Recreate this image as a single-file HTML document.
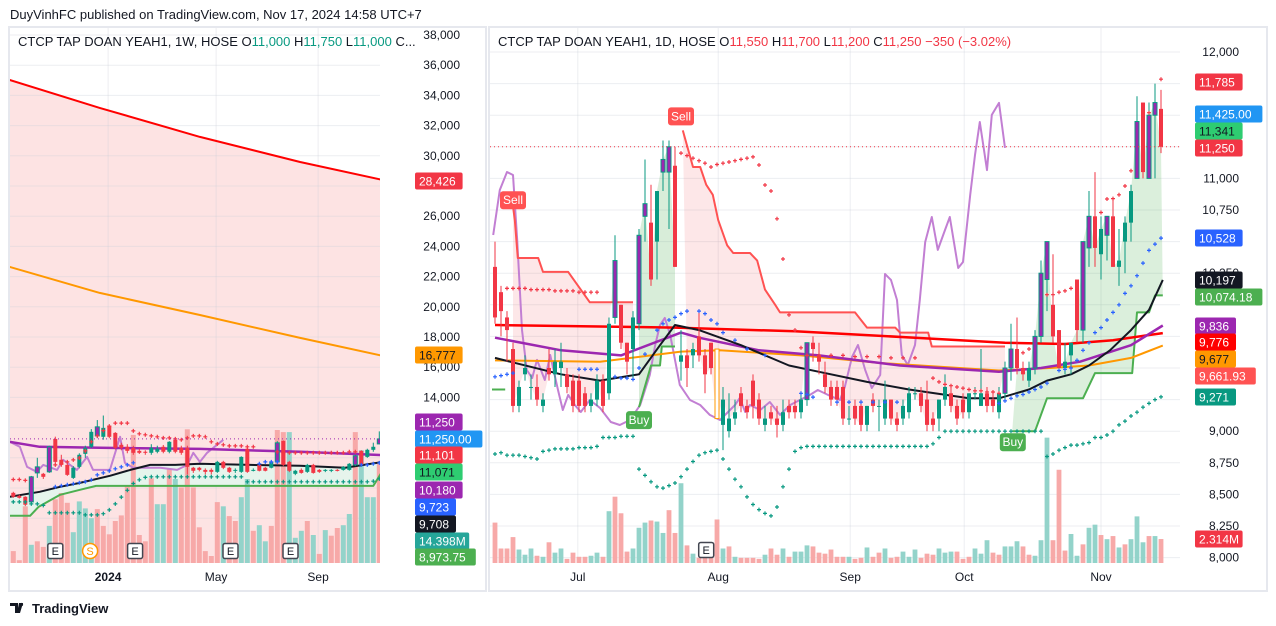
<!DOCTYPE html>
<html><head><meta charset="utf-8">
<style>
html,body{margin:0;padding:0;background:#fff;width:1276px;height:626px;overflow:hidden}
svg{display:block;font-family:"Liberation Sans",sans-serif}
.ax{font-size:12px;fill:#131722}
.lb{font-size:12px;fill:#fff}
</style></head>
<body>
<svg id="root" width="1276" height="626" viewBox="0 0 1276 626" xmlns="http://www.w3.org/2000/svg">
<defs>
<clipPath id="clipL"><rect x="10" y="28" width="370" height="535"/></clipPath>
<clipPath id="clipR"><rect x="490" y="28" width="690" height="535"/></clipPath>
</defs>
<rect x="0" y="0" width="1276" height="626" fill="#ffffff"/>
<text x="10" y="19" style="font-size:13px;fill:#131722">DuyVinhFC published on TradingView.com, Nov 17, 2024 14:58 UTC+7</text>
<rect x="9" y="27" width="477" height="564" fill="none" stroke="#e6e8ee" stroke-width="2"/>
<rect x="489" y="27" width="778" height="564" fill="none" stroke="#e6e8ee" stroke-width="2"/>
<g id="gL" clip-path="url(#clipL)"></g>
<g id="gR" clip-path="url(#clipR)"></g>
<g id="axL"></g>
<g id="axR"></g>
<g id="tL"></g>
<g id="tR"></g>

<text x="18" y="46" style="font-size:13px;fill:#131722">CTCP TAP DOAN YEAH1, 1W, HOSE  O<tspan fill="#089981">11,000</tspan>  H<tspan fill="#089981">11,750</tspan>  L<tspan fill="#089981">11,000</tspan>  C...</text>
<text x="498" y="46" style="font-size:13px;fill:#131722">CTCP TAP DOAN YEAH1, 1D, HOSE  O<tspan fill="#f23645">11,550</tspan>  H<tspan fill="#f23645">11,700</tspan>  L<tspan fill="#f23645">11,200</tspan>  C<tspan fill="#f23645">11,250</tspan>  <tspan fill="#f23645">−350 (−3.02%)</tspan></text>

<g id="lblL"></g>
<g id="lblR"></g>

<g>
<path d="M10 603h8v10h-3v-7h-5z M19 603h4l-3 10h-3z" fill="#131722"/>
<circle cx="21.5" cy="604.5" r="1.6" fill="#131722"/>
<text x="32" y="613" style="font-size:13px;fill:#131722;font-weight:bold">TradingView</text>
</g>
</svg>
<script>
// ===== RIGHT (daily) DATA =====
const rOpen=[10300,10100,9900,9650,9200,9450,9350,9350,9200,9500,9450,9500,9450,9400,9400,9300,9200,9250,9400,9300,9900,10000,9700,9650,9850,10700,10650,10500,11050,11050,11100,9550,9600,9600,9750,9600,9700,9650,9050,9000,9100,9300,9200,9400,9250,9050,9150,9100,9050,9200,9200,9150,9250,9700,9600,9450,9350,9350,9350,9100,9200,9200,9050,9250,9200,9100,9250,9100,9100,9150,9300,9300,9250,9100,9100,9250,9300,9200,9250,9150,9300,9200,9300,9250,9150,9300,9500,9650,9500,9400,9500,9750,10200,10000,9800,9500,9600,10200,9800,10450,10700,10400,10550,10700,10300,10500,10650,11000,11600,11000,11500,11550];
const rClose=[9900,9950,9800,9200,9350,9500,9350,9250,9250,9450,9550,9550,9350,9200,9200,9200,9250,9400,9200,9850,10350,9700,9550,9900,10550,10800,10200,10900,11150,11250,10300,9600,9500,9650,9600,9450,9500,9100,9250,9100,9150,9200,9150,9200,9100,9100,9100,9050,9150,9150,9150,9250,9700,9650,9550,9350,9250,9250,9100,9100,9100,9050,9200,9200,9200,9250,9100,9050,9200,9300,9300,9200,9050,9050,9250,9350,9200,9100,9150,9300,9300,9300,9200,9200,9300,9500,9650,9500,9450,9500,9750,10250,10500,9750,9500,9550,9700,9800,10500,10700,10450,10600,10700,10300,10350,10650,10900,11450,11050,11500,11600,11250];
const rHigh=[10500,10150,9950,9700,9400,9600,9450,9450,9300,9650,9650,9700,9500,9450,9450,9350,9300,9450,9450,9900,10550,10000,9700,9950,10600,11150,10950,10900,11300,11300,11250,9800,9650,9700,9950,9650,9700,9650,9350,9300,9250,9350,9250,9450,9300,9200,9200,9200,9250,9250,9250,9300,9700,9750,9700,9550,9400,9400,9400,9200,9250,9250,9200,9300,9250,9400,9250,9150,9250,9350,9350,9350,9400,9150,9250,9450,9350,9250,9300,9300,9350,9650,9350,9300,9350,9550,9850,9900,9550,9550,9800,10350,10500,10400,9800,9700,9700,10200,10500,10900,11050,10700,10700,10850,10600,10700,10950,11650,11600,11600,11750,11700];
const rLow=[9850,9750,9550,9150,9150,9400,9250,9200,9150,9400,9350,9350,9300,9150,9150,9150,9150,9200,9150,9250,9850,9650,9450,9400,9800,10500,10150,10200,10900,10600,10300,9400,9350,9500,9550,9300,9450,9100,8850,8950,9050,9150,9100,9100,9050,9000,9050,8950,9000,9100,9100,9100,9200,9550,9450,9300,9200,9200,9050,9050,9050,9000,9000,9150,9000,9050,9050,9000,9050,9100,9250,9150,9000,9000,9000,9200,9150,9050,9100,9100,9250,9200,9150,9150,9100,9250,9400,9450,9400,9350,9450,9700,9950,9700,9500,9450,9450,9700,9700,10300,10300,10200,10350,10300,10150,10250,10500,11000,11000,11000,11000,11200];
const rPurple=[21,25,26,29,30,53,86,87,91,92,93,99,100,103,108,110,111];
const rOrange=[38];
const rVol=[3.9,1.4,1.4,2.5,1.3,0.8,1.4,0.7,0.6,2.0,1.0,1.4,0.4,1.0,0.6,0.6,0.7,1.0,0.6,5.0,6.4,4.8,1.1,1.4,3.4,3.9,4.1,4.0,2.9,5.1,2.9,7.7,1.7,0.9,0.5,0.5,0.5,4.2,1.4,1.6,0.6,0.5,0.5,0.5,0.4,0.8,1.4,0.8,1.4,0.6,1.1,1.1,1.7,1.6,1.0,0.9,1.3,0.6,0.6,0.6,0.4,0.5,1.5,0.6,1.0,1.4,0.5,0.6,1.1,0.6,1.3,0.5,0.9,0.8,1.4,1.0,1.1,1.1,0.4,0.6,1.4,0.9,2.2,1.0,0.8,1.6,1.6,2.1,1.6,0.8,0.7,2.2,12.1,2.2,9.0,1.2,2.8,0.7,1.8,3.4,3.7,2.7,2.3,2.6,1.5,1.8,2.3,4.5,2.0,2.6,2.6,2.314];
const rVolDir="dddduuudud"+"uudddduudu"+"ddduuuduud"+"dududdddud"+"udddduddud"+"uuuddddddu"+"dduddudduu"+"udddguuddd".replace('g','u')+"uuudduuudd"+"uuudddu udu".replace(' ','')+"udududuuud"+"ud";
const rTickIdx=[13.8,37.2,59.2,78.2,101];
const rTickLbl=["Jul","Aug","Sep","Oct","Nov"];
const rPriceTicks=[12000,11000,10750,10250,10000,9000,8750,8500,8250,8000];
const rGridPrices=[12000,11750,11500,11250,11000,10750,10500,10250,10000,9750,9500,9250,9000,8750,8500,8250,8000];
const ma20Idx=[0,2.5,11,17.5,24,27.5,30,34,41,49,54,62,69,79,84,89,92,96,99,102.5,106,109,111.3];
const ma20Val=[9580,9550,9450,9400,9450,9680,9840,9800,9680,9520,9470,9390,9330,9260,9260,9330,9400,9450,9520,9640,9800,9960,10197];
const ma100Idx=[0,11,21,31,34,44,54,67.5,84,91,97.5,106,111.3];
const ma100Val=[9740,9640,9600,9780,9740,9640,9600,9520,9470,9500,9550,9680,9836];
const ma50Idx=[0,17.5,31,37.5,51,64,84,92.5,99,106,111.3];
const ma50Val=[9560,9550,9630,9640,9600,9540,9480,9500,9520,9580,9677];
const ma200Idx=[0,30,50,70,85,95,103,111.3];
const ma200Val=[9840,9820,9790,9740,9700,9690,9720,9776];
const stopG1Idx=[-0.5,1.7];
const stopG1Val=[9330,9330];
const stopG2Idx=[24,26,27.5,27.8,30];
const stopG2Val=[9190,9520,9520,9670,9670];
const stopG3Idx=[86.2,90,92,98,100,106.2,107,109,110,111.3];
const stopG3Val=[9000,9000,9260,9260,9460,9460,9940,9940,10074,10074];
const stopRAIdx=[3,3.3,3.8,7.2,8,12.2,15.8,23];
const stopRAVal=[10780,10670,10370,10370,10260,10260,10020,10020];
const stopRBIdx=[31.3,33,34.2,35.2,36.3,37.2,38.7,39.7,42.5,43.7,45,46.7,47.5,60,62,66.7,67.5,72.2,72.8,85];
const stopRBVal=[11380,11090,11090,10950,10870,10670,10470,10410,10410,10350,10120,10000,9940,9940,9820,9820,9780,9780,9670,9670];
const oscIdx=[-0.3,0.8,2,3,3.7,4.5,5.3,6.2,7,8.3,9.2,10.5,11.3,12.2,13.3,14.3,15.8,17.5,19.3,20.8,22.5,24.2,25.8,26.7,27.5,28.3,29.2,30,30.8,32.5,34.2,35.8,37.5,40,40.8,41.7,42.5,44.2,45.8,47.5,49.2,50.8,52.5,53.8,55.5,57.5,58.3,59.5,60.5,61.7,62.8,64.2,65,66,67,67.8,68.8,70,70.8,71.7,72.8,73.8,75,75.8,77.2,78,79.2,80,80.8,82,82.8,84,85];
const oscVal=[10552,10908,11051,11027,10513,9801,9484,9421,9564,9405,9603,9326,9168,9287,9207,9152,9247,9184,9073,9049,9089,9207,9445,9682,9840,9896,9761,9564,9366,9247,9207,9129,9089,9207,9263,9152,9207,9168,9231,9129,9207,9247,9287,9326,9287,9247,9350,9587,9682,9484,9342,9445,10244,10196,10038,9603,9524,9682,10038,10497,10695,10434,10592,10695,10291,10339,10869,11185,11446,11066,11502,11597,11241];
const sarGreen=[8820,8830,8810,8810,8810,8800,8790,8780,8840,8850,8860,8860,8860,8860,8870,8870,8870,8880,8950,8950,8950,8960,8960,8960,8700,8650,8600,8560,8550,8570,8590,8640,8700,8760,8810,8830,8840,8850,8780,8700,8620,8560,8480,8420,8380,8350,8330,8400,8560,8700,8840,8870,8880,8880,8880,8880,8880,8880,8880,8880,8880,8880,8880,8880,8880,8880,8880,8880,8880,8880,8880,8880,8880,8900,8950,9000,9000,9000,9000,9000,9000,9000,9000,9000,9000,9000,9000,9000,9000,9000,9000,9000,8800,8820,8850,8870,8890,8890,8900,8910,8950,8950,8970,9000,9050,9080,9120,9150,9190,9220,9250,9271];
const sarBlueIdx=[0,1,2,3,14,15,16,17,20,21,22,23,24,25,27,28,29,30,31,32,34,35,36,37,38,40,42,45,51,52,53,57,59,61,63,65,67,84,85,86,87,88,89,90,91,92,94,95,96,97,98,99,100,101,102,103,104,105,106,107,108,109,110,111];
const sarBlueVal=[9430,9440,9450,9460,9490,9490,9490,9490,9430,9420,9420,9410,9500,9610,9800,9850,9880,9900,9930,9950,9950,9930,9880,9850,9780,9720,9650,9600,9300,9290,9270,9230,9230,9230,9230,9230,9230,9220,9240,9260,9280,9290,9310,9330,9350,9380,9480,9490,9500,9560,9640,9700,9780,9820,9880,9940,10000,10090,10150,10230,10330,10430,10480,10528];
const sarRedIdx=[2,3,4,5,6,7,8,9,10,11,12,13,14,15,16,17,31,32,33,34,35,36,37,38,39,40,41,42,43,44,45,46,47,48,49,50,51,52,54,56,58,60,62,64,66,68,70,73,74,75,76,77,78,79,80,81,82,83,84,87,88,89,92,93,94,95,96,97,101,102,103,104,105,106,109,111];
const sarRedVal=[10130,10130,10130,10130,10120,10120,10120,10120,10110,10110,10110,10110,10100,10100,10100,10100,11200,11180,11160,11140,11120,11090,11110,11120,11130,11140,11150,11160,11170,11106,10948,10900,10680,10362,9920,9800,9660,9600,9600,9600,9600,9590,9590,9590,9580,9580,9580,9420,9390,9370,9360,9350,9340,9330,9320,9320,9310,9310,9300,9600,9620,9650,10080,10080,10100,10110,10130,10150,10730,10837,10840,10870,10940,11060,11520,11785];

// ===== LEFT (weekly) DATA =====
const lOpen=[7680,7480,7420,7080,9000,8940,9070,11250,9870,9530,8670,9400,10260,10730,11450,11390,12120,11650,10860,10730,10660,10460,10400,10330,10400,10730,10400,11190,10660,10660,9340,9340,9200,9200,9070,9730,9340,9140,9070,10600,9170,9530,9340,9340,9730,11120,9730,8940,9200,9070,9530,9200,9170,9170,9200,9200,9200,9530,10460,10060,10530,10920];
const lClose=[7420,7350,6890,8740,9400,8740,10730,9730,9530,8870,9340,10200,10660,11720,12050,11980,11390,10660,10660,10460,10330,10330,10330,10660,10600,10400,11060,10400,10330,9400,9140,9200,9070,9070,9730,9340,9070,9200,10060,9070,9200,9140,9140,9730,10990,9530,9140,9140,9000,9530,9000,9070,9200,9200,9170,9400,9600,10130,9530,10530,10730,11250];
const lHigh=[7750,7550,7450,8800,10000,9000,10800,11400,10200,9600,9450,10300,10800,11900,12500,12800,12150,11700,11000,10900,10800,10600,10500,10900,10800,10850,11100,11250,10800,10800,9400,9400,9300,9300,9800,9800,9400,9300,10100,10700,9300,9600,9400,9800,11100,11150,9800,9200,9300,9600,9600,9250,9250,9250,9250,9450,9650,10200,10500,10600,11000,11750];
const lLow=[7350,7300,6800,7000,8670,8600,9000,9600,9400,8800,8600,9300,10000,10650,11300,11200,11300,10550,10500,10300,10200,10250,10200,10200,10300,10300,10300,10300,10200,8900,9000,9100,8900,8900,9000,9250,9000,9000,9000,9000,9100,9100,9100,9300,9650,9450,9050,8850,8950,9000,8950,9000,9050,9050,9100,9150,9150,9450,9450,10000,10400,10900];
const lPurple=[4,5,7,15,45,58,62];
const lVol=[1.7,0.4,8.1,2.6,3.1,2.3,5.3,9.1,10.0,8.6,4.4,8.8,7.8,6.4,7.7,5.3,4.1,6.0,6.8,11.0,18.3,4.0,3.1,12.1,8.4,8.4,13.4,12.0,10.8,19.1,10.8,5.1,1.7,1.0,8.7,8.1,6.7,6.0,9.4,12.0,4.6,5.4,3.1,5.3,19.0,18.7,18.7,3.6,4.6,6.0,4.0,1.3,4.7,3.9,5.0,5.4,7.0,18.7,16.1,9.4,9.4,14.398];
const lVolDir="ddduddudddunuudddddddddduududdddddduddu uduuddduuudududduuduuudu".replace('n','u').replace(' ','');
const lTickIdx=[15.8,33.8,50.8];
const lTickLbl=["2024","May","Sep"];
const lPriceTicks=[38000,36000,34000,32000,30000,28000,26000,24000,22000,20000,18000,16000,14000];
const lGridPrices=[38000,36000,34000,32000,30000,28000,26000,24000,22000,20000,18000,16000,14000,12000,10000,8000,6000];
const lRedIdx=[-0.6,14.4,31.1,47.8,61.3];
const lRedVal=[35020,33170,31250,29590,28426];
const lOrgIdx=[-0.6,14.4,31.1,47.8,61.3];
const lOrgVal=[22640,20920,19460,17940,16777];
const lPurIdx=[-0.6,4.4,14.4,31.1,47.8,61.3];
const lPurVal=[11060,10730,10660,10590,10400,10180];
const lBlkIdx=[-0.6,4.4,7.8,11.1,16.1,19.5,22.8,27,31.1,39.5,47.8,55.3,61.3];
const lBlkVal=[7420,7750,8080,8340,8810,9200,9530,9530,9600,9530,9470,9340,9708];
const lGrnIdx=[-0.6,2.8,4.2,7.8,11.1,13.8,60,61.3];
const lGrnVal=[6160,6160,6750,7550,7880,8140,8140,8973];
const lOscIdx=[-0.6,1.1,2.3,3.9,5,7.3,8.3,10.6,12.3,13.3,16.1,17.8,18.6,20,24.5,27.3,29,30,31.1,32.3,35];
const lOscVal=[11060,10730,9400,9070,9530,9200,9870,9200,10060,9200,9200,11390,9670,9340,9340,9200,9530,10330,9730,10330,11190];
const lSarRedIdx=[0,1,2,7,8,9,10,11,12,13,14,15,16,17,18,19,20,21,22,23,24,25,26,27,28,29,30,31,32,33,34,35,36,37,38,39,40,44,45,46,47,48,49,50,51,52,53,54,55,56,57];
const lSarRedVal=[8560,8560,8500,9530,9600,9730,9860,9990,10460,11060,11450,11800,12100,12300,12300,12300,11780,11590,11520,11450,11390,11320,11320,11250,11190,11320,11450,11450,11390,11060,10920,10860,10790,10790,10790,10730,10730,10400,10330,10330,10330,10330,10330,10330,10330,10330,10330,10330,10330,10400,10400];
const lSarGrn=[7080,7080,7080,6950,6950,6850,6360,6360,6360,6360,6360,6360,6220,6220,6220,6300,6550,6950,7400,7850,8300,8540,8700,8740,8740,8740,8740,8740,8740,8740,8740,8740,8740,8740,8740,8740,8740,8740,8740,8410,8410,8410,8410,8410,8410,8410,8410,8410,8410,8410,8410,8410,8410,8410,8410,8410,8410,8410,8410,8410,8450,8600];
const lSarBlueIdx=[7,8,9,10,11,12,13,14,15,16,17,18,19,20,41,42,43,44,58,59,60,61];
const lSarBlueVal=[8080,8150,8210,8280,8350,8410,8540,8870,9000,9130,9270,9400,9530,9670,9600,9730,9730,9730,9530,9530,9600,9660];

// ===== SCALES =====
const xR=i=>495+i*6.0;
const yR=p=>52+(12000-p)*0.1264;
const yRV=v=>563-v*10.36;
const xL=i=>13.3+i*6.0;
const yL=p=>35+(38000-p)*0.0151;
const yLV=v=>563-v*7.0;

const NS="http://www.w3.org/2000/svg";
function mk(tag,attrs,parent){const e=document.createElementNS(NS,tag);for(const k in attrs)e.setAttribute(k,attrs[k]);parent.appendChild(e);return e;}
function pathFrom(idx,val,xf,yf){return idx.map((d,k)=>(k?"L":"M")+xf(d).toFixed(1)+" "+yf(val[k]).toFixed(1)).join(" ");}

const gL=document.getElementById('gL'),gR=document.getElementById('gR');

// ---------- LEFT big pink area (red line down to bottom) ----------
(function(){
  let pts=lRedIdx.map((d,k)=>xL(d).toFixed(1)+","+yL(lRedVal[k]).toFixed(1));
  pts.push(xL(lRedIdx[lRedIdx.length-1]).toFixed(1)+",563");
  pts.push(xL(lRedIdx[0]).toFixed(1)+",563");
  const p=mk('polygon',{points:pts.join(" "),fill:'#fde3e3'},gL);
  
  
})();

// ---------- grid ----------
function grid(g,prices,yf,x0,x1,tidx,xf,y0,y1,nm){
  prices.forEach(p=>{const y=yf(p);const l=mk('line',{x1:x0,x2:x1,y1:y,y2:y,stroke:'rgba(200,205,215,0.35)','stroke-width':1},g);
    
    });
  tidx.forEach(t=>{const x=xf(t);const l=mk('line',{x1:x,x2:x,y1:y0,y2:y1,stroke:'rgba(200,205,215,0.35)','stroke-width':1},g);
    
    });
}
grid(gL,lGridPrices,yL,10,380,lTickIdx,xL,28,563,'weekly');
grid(gR,rGridPrices,yR,490,1180,rTickIdx,xR,28,563,'daily');

function bandPoly(g,aIdx,aVal,bIdx,bVal,xf,yf,fill,nm){
  let pts=aIdx.map((d,k)=>xf(d).toFixed(1)+","+yf(aVal[k]).toFixed(1));
  for(let k=bIdx.length-1;k>=0;k--)pts.push(xf(bIdx[k]).toFixed(1)+","+yf(bVal[k]).toFixed(1));
  const p=mk('polygon',{points:pts.join(" "),fill:fill},g);
  
  
}
bandPoly(gL,lBlkIdx,lBlkVal,lGrnIdx,lGrnVal,xL,yL,'#e6f4ec','weekly-bull-cloud');

function stopFill(g,sIdx,sVal,fill,nm){
  const a=Math.ceil(sIdx[0]),b=Math.floor(sIdx[sIdx.length-1]);
  let pts=sIdx.map((d,k)=>xR(d).toFixed(1)+","+yR(sVal[k]).toFixed(1));
  for(let i=b;i>=a;i--)pts.push(xR(i).toFixed(1)+","+yR(rClose[i]).toFixed(1));
  const p=mk('polygon',{points:pts.join(" "),fill:fill},g);
  
  
}
stopFill(gR,stopRAIdx,stopRAVal,'rgba(242,54,69,0.12)','sell-stop-fill-a');
stopFill(gR,stopRBIdx,stopRBVal,'rgba(242,54,69,0.12)','sell-stop-fill-b');
stopFill(gR,stopG2Idx,stopG2Val,'rgba(76,175,80,0.22)','buy-stop-fill-a');
stopFill(gR,stopG3Idx,stopG3Val,'rgba(76,175,80,0.2)','buy-stop-fill-b');

// ---------- volumes ----------
lVol.forEach((v,i)=>{const up=lVolDir[i]==='u';const y=yLV(v);
  const r=mk('rect',{x:xL(i)-2.5,y:y,width:5,height:563-y,fill:up?'#93d3ca':'#f7a9a8'},gL);
  
  });
rVol.forEach((v,i)=>{const up=rVolDir[i]==='u';const y=yRV(v);
  const r=mk('rect',{x:xR(i)-2.4,y:y,width:4.8,height:563-y,fill:up?'#93d3ca':'#f7a9a8'},gR);
  
  });

// ---------- lines ----------
function drawLine(g,idx,val,xf,yf,color,w,nm){
  const p=mk('path',{d:pathFrom(idx,val,xf,yf),fill:'none',stroke:color,'stroke-width':w,'stroke-linejoin':'round'},g);
  
  
}
drawLine(gL,lRedIdx,lRedVal,xL,yL,'#ff0000',2,'weekly-ma-red');
drawLine(gL,lOrgIdx,lOrgVal,xL,yL,'#ff9800',2,'weekly-ma-orange');
drawLine(gL,lGrnIdx,lGrnVal,xL,yL,'#4caf50',2,'weekly-stop-green');
drawLine(gL,lOscIdx,lOscVal,xL,yL,'#c27fd3',2,'weekly-purple-oscillator');
drawLine(gL,lPurIdx,lPurVal,xL,yL,'#9c27b0',2.5,'weekly-ma-purple');
drawLine(gL,lBlkIdx,lBlkVal,xL,yL,'#131722',2,'weekly-ma-black');

drawLine(gR,oscIdx,oscVal,xR,yR,'#c27fd3',2,'daily-purple-oscillator');
drawLine(gR,stopRAIdx,stopRAVal,xR,yR,'#ff5252',2,'sell-stop-line-a');
drawLine(gR,stopRBIdx,stopRBVal,xR,yR,'#ff5252',2,'sell-stop-line-b');
drawLine(gR,stopG1Idx,stopG1Val,xR,yR,'#4caf50',2,'buy-stop-line-0');
drawLine(gR,stopG2Idx,stopG2Val,xR,yR,'#4caf50',2,'buy-stop-line-a');
drawLine(gR,stopG3Idx,stopG3Val,xR,yR,'#4caf50',2,'buy-stop-line-b');
drawLine(gR,ma200Idx,ma200Val,xR,yR,'#ff0000',2.5,'daily-ma-red');
drawLine(gR,ma50Idx,ma50Val,xR,yR,'#ff9800',2,'daily-ma-orange');
drawLine(gR,ma100Idx,ma100Val,xR,yR,'#9c27b0',2.5,'daily-ma-purple');
drawLine(gR,ma20Idx,ma20Val,xR,yR,'#131722',2,'daily-ma-black');

// ---------- candles ----------
function candles(g,O,H,L,C,xf,yf,purple,orange,nm){
  O.forEach((o,i)=>{
    const c=C[i],up=c>=o,x=xf(i);
    const col=up?'#089981':'#f23645';
    const isP=purple.indexOf(i+1)>=0,isO=orange.indexOf(i+1)>=0;
    const w=mk('line',{x1:x,x2:x,y1:yf(H[i]),y2:yf(L[i]),stroke:isO?'#ff9800':col,'stroke-width':1},g);
    
    
    const top=yf(Math.max(o,c)),bot=yf(Math.min(o,c));
    const fill=isP?'#9c27b0':(isO?'#ffffff':col);
    const b=mk('rect',{x:x-2,y:top,width:4,height:Math.max(1,bot-top),fill:fill,stroke:isO?'#ff9800':((isP)?col:'none'),'stroke-width':isP||isO?1:0},g);
    
    
  });
}
candles(gL,lOpen,lHigh,lLow,lClose,xL,yL,lPurple,[],'weekly');
candles(gR,rOpen,rHigh,rLow,rClose,xR,yR,rPurple,rOrange,'daily');

// ---------- plus-dots ----------
function plus(g,x,y,col,nm){
  const p=mk('path',{d:`M${(x-2).toFixed(1)} ${y.toFixed(1)}h4M${x.toFixed(1)} ${(y-2).toFixed(1)}v4`,stroke:col,'stroke-width':1.2},g);
  
  
}
sarGreen.forEach((v,i)=>plus(gR,xR(i),yR(v),'#089981','daily-lower-dot'));
sarBlueIdx.forEach((d,k)=>plus(gR,xR(d),yR(sarBlueVal[k]),'#2962ff','daily-mid-dot'));
sarRedIdx.forEach((d,k)=>plus(gR,xR(d),yR(sarRedVal[k]),'#f23645','daily-upper-dot'));
lSarGrn.forEach((v,i)=>plus(gL,xL(i),yL(v),'#089981','weekly-lower-dot'));
lSarBlueIdx.forEach((d,k)=>plus(gL,xL(d),yL(lSarBlueVal[k]),'#2962ff','weekly-mid-dot'));
lSarRedIdx.forEach((d,k)=>plus(gL,xL(d),yL(lSarRedVal[k]),'#f23645','weekly-upper-dot'));

// ---------- last price lines ----------
const lastR=rClose[rClose.length-1],lastL=lClose[lClose.length-1];
const plR=mk('line',{x1:490,x2:1180,y1:yR(lastR),y2:yR(lastR),stroke:'#f23645','stroke-width':1,'stroke-dasharray':'1 3'},gR);


const plL=mk('line',{x1:10,x2:380,y1:yL(lastL),y2:yL(lastL),stroke:'#9c27b0','stroke-width':1,'stroke-dasharray':'1 3'},gL);



// ---------- signal markers ----------
function signal(g,x,y,txt,col,nm){
  const gg=mk('g',{},g);
  
  
  const r=mk('rect',{x:x-13,y:y-9,width:26,height:18,rx:3,fill:col},gg);
  
  
  const t=mk('text',{x:x,y:y+4,'text-anchor':'middle',fill:'#fff','font-size':'12'},gg);
  t.textContent=txt;
  
  
}
signal(gR,xR(3),yR(stopRAVal[0])-6,'Sell','#ff5252','sell-signal-1');
signal(gR,xR(31),yR(stopRBVal[0])-14,'Sell','#ff5252','sell-signal-2');
signal(gR,xR(24),yR(stopG2Val[0])+13,'Buy','#4caf50','buy-signal-1');
signal(gR,xR(86.3),yR(stopG3Val[0])+11,'Buy','#4caf50','buy-signal-2');

// ---------- event badges ----------
function badge(g,x,y,txt,round,nm){
  const gg=mk('g',{},g);
  
  
  const s=round?mk('circle',{cx:x,cy:y,r:7.5,fill:'#fff',stroke:'#ff9800','stroke-width':1.5},gg):mk('rect',{x:x-7.5,y:y-7.5,width:15,height:15,rx:2,fill:'#fff',stroke:'#434651','stroke-width':1.5},gg);
  
  
  const t=mk('text',{x:x,y:y+4,'text-anchor':'middle',fill:round?'#ff9800':'#131722','font-size':'11'},gg);
  t.textContent=txt;
  
  
}
const lEvtIdx=[7,12.8,20.3,36.2,46.2];
const lEvtTxt=["E","S","E","E","E"];
lEvtIdx.forEach((d,k)=>badge(gL,xL(d),551,lEvtTxt[k],lEvtTxt[k]==='S','weekly-event-'+lEvtTxt[k].toLowerCase()));
badge(gR,xR(35.2),550,'E',false,'daily-earnings-event');

// ---------- price labels (data) ----------
const lLblTxt=["28,426","16,777","11,250","11,250.00","11,101","11,071","10,180","9,723","9,708","14.398M","8,973.75"];
const lLblY=[181,355,422,439,455,472,490,507,524,541,557];
const lLblBg=["#f23645","#ff9800","#9c27b0","#2196f3","#f23645","#2ecc71","#9c27b0","#2962ff","#131722","#26a69a","#4caf50"];
const lLblFg=["#fff","#131722","#fff","#fff","#fff","#131722","#fff","#fff","#fff","#fff","#fff"];
const rLblTxt=["11,785","11,425.00","11,341","11,250","10,528","10,197","10,074.18","9,836","9,776","9,677","9,661.93","9,271","2.314M"];
const rLblY=[82,114,131,148,238,280,297,326,342,359,376,397,539];
const rLblBg=["#f23645","#2196f3","#2ecc71","#f23645","#2962ff","#131722","#4caf50","#9c27b0","#ff0000","#ff9800","#ff5252","#089981","#f23645"];
const rLblFg=["#fff","#fff","#131722","#fff","#fff","#fff","#fff","#fff","#fff","#131722","#fff","#fff","#fff"];

// ---------- axes ----------
const axL=document.getElementById('axL'),axR=document.getElementById('axR');
function near(y,ys){return ys.some(v=>Math.abs(v-y)<10);}
lPriceTicks.forEach(p=>{const y=yL(p);if(near(y,lLblY))return;
  const t=mk('text',{x:460,y:y+4,'text-anchor':'end',class:'ax'},axL);
  t.textContent=p.toLocaleString('en-US');
  
  });
rPriceTicks.forEach(p=>{const y=yR(p);if(near(y,rLblY)&&p!==10250)return;
  const t=mk('text',{x:1239,y:y+4,'text-anchor':'end',class:'ax'},axR);
  t.textContent=p.toLocaleString('en-US');
  
  });
const tL=document.getElementById('tL'),tR=document.getElementById('tR');
lTickIdx.forEach((d,k)=>{const t=mk('text',{x:xL(d),y:581,'text-anchor':'middle',class:'ax','font-weight':k===0?'bold':'normal'},tL);
  t.textContent=lTickLbl[k];
  
  });
rTickIdx.forEach((d,k)=>{const t=mk('text',{x:xR(d),y:581,'text-anchor':'middle',class:'ax'},tR);
  t.textContent=rTickLbl[k];
  
  });

function labels(g,txt,ys,bg,fg,x,nm){
  txt.forEach((s,k)=>{
    const w=s.length*6.6+8;
    const r=mk('rect',{x:x,y:ys[k]-8.5,width:w,height:17,rx:2,fill:bg[k]},g);
    
    
    const t=mk('text',{x:x+4,y:ys[k]+4.5,class:'lb',style:'fill:'+fg[k]},g);
    t.textContent=s;
    
    
  });
}
labels(document.getElementById('lblL'),lLblTxt,lLblY,lLblBg,lLblFg,415,'weekly-price-label');
labels(document.getElementById('lblR'),rLblTxt,rLblY,rLblBg,rLblFg,1195,'daily-price-label');
</script>
</body></html>
